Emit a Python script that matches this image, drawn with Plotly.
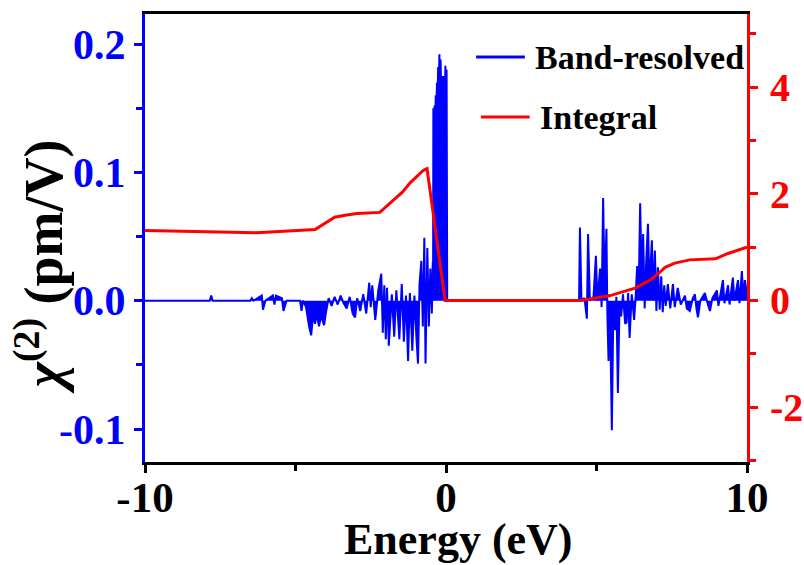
import plotly.graph_objects as go

# ---------------- data ----------------
band_energy = [
    -10.0, -7.85, -7.8, -7.75, -6.5, -6.45, -6.4, -6.12, -6.08, -6.0,
    -5.75, -5.7, -5.65, -5.45, -5.4, -5.3, -4.85, -4.8, -4.75, -4.65,
    -4.55, -4.48, -4.42, -4.35, -4.3, -4.22, -4.15, -4.05, -3.98, -3.9,
    -3.8, -3.7, -3.6, -3.5, -3.4, -3.3, -3.2, -3.1, -3.02, -2.95,
    -2.85, -2.75, -2.65, -2.55, -2.5, -2.45, -2.35, -2.25, -2.15, -2.1,
    -2.05, -2.0, -1.96, -1.9, -1.8, -1.72, -1.65, -1.55, -1.47, -1.4,
    -1.33, -1.26, -1.2, -1.12, -1.05, -0.98, -0.93, -0.88, -0.82, -0.77,
    -0.72, -0.68, -0.62, -0.57, -0.52, -0.47, -0.44, -0.43, -0.42, -0.40,
    -0.38, -0.36, -0.34, -0.32, -0.30, -0.28, -0.26, -0.24, -0.22, -0.20,
    -0.18, -0.16, -0.14, -0.12, -0.10, -0.08, -0.06, -0.04, -0.02, 0.0,
    0.02, 0.04, 4.42, 4.45, 4.5, 4.6, 4.68, 4.72, 4.78, 4.9,
    4.98, 5.03, 5.12, 5.17, 5.22, 5.27, 5.33, 5.36, 5.4, 5.45,
    5.51, 5.56, 5.61, 5.66, 5.71, 5.76, 5.82, 5.88, 5.95, 6.0,
    6.05, 6.1, 6.17, 6.25, 6.3, 6.35, 6.4, 6.45, 6.5, 6.55,
    6.6, 6.65, 6.71, 6.76, 6.84, 6.89, 6.94, 6.99, 7.04, 7.1,
    7.15, 7.2, 7.25, 7.3, 7.37, 7.45, 7.54, 7.6, 7.7, 7.8,
    7.94, 8.0, 8.1, 8.2, 8.27, 8.32, 8.37, 8.45, 8.6, 8.7,
    8.77, 8.85, 9.0, 9.05, 9.2, 9.25, 9.37, 9.42, 9.53, 9.58,
    9.7, 9.75, 9.83, 9.88, 9.93, 10.0,
]
band_chi2 = [
    0.0, 0.0, 0.004, 0.0, 0.0, 0.002, 0.0, 0.004, -0.007, 0.0,
    0.004, -0.003, 0.004, 0.002, -0.008, 0.0, 0.0, -0.008, 0.0, -0.005,
    -0.02, -0.027, -0.012, -0.018, -0.01, -0.02, -0.012, -0.019, -0.008, 0.002,
    -0.004, 0.003, -0.003, 0.004, -0.002, -0.006, 0.003, -0.01, -0.013, 0.002,
    -0.008, 0.005, -0.01, 0.014, -0.005, 0.012, -0.015, 0.008, 0.021, -0.025,
    0.012, -0.03, 0.01, -0.035, 0.005, -0.028, 0.008, -0.03, 0.013, -0.032,
    0.004, -0.047, 0.006, -0.039, 0.004, -0.03, -0.049, 0.013, 0.031, -0.02,
    0.049, -0.049, 0.041, -0.02, 0.025, -0.01, 0.03, 0.0, 0.15, 0.13,
    0.152, 0.14, 0.16, 0.15, 0.17, 0.16, 0.182, 0.165, 0.192, 0.17,
    0.188, 0.165, 0.17, 0.16, 0.175, 0.165, 0.175, 0.16, 0.183, 0.17,
    0.18, 0.0, 0.0, 0.057, 0.0, 0.002, -0.014, 0.052, 0.0, 0.003,
    0.035, 0.0, 0.025, -0.005, 0.08, 0.01, 0.056, -0.01, -0.047, -0.01,
    -0.101, -0.005, -0.023, 0.003, -0.072, -0.01, -0.012, 0.005, -0.018, -0.017,
    0.006, -0.029, 0.005, -0.015, 0.003, 0.027, 0.005, 0.076, 0.02, 0.052,
    -0.006, 0.03, 0.06, 0.01, 0.047, 0.0, 0.039, -0.008, 0.026, -0.007,
    0.019, -0.009, 0.012, -0.004, 0.013, -0.006, 0.013, -0.005, 0.01, -0.003,
    0.004, -0.006, -0.008, 0.002, 0.005, -0.006, -0.013, 0.0, 0.006, -0.003,
    -0.008, 0.002, 0.008, -0.004, 0.016, -0.002, 0.012, -0.003, 0.018, 0.0,
    0.016, -0.002, 0.023, 0.0, 0.016, 0.005,
]

integral_energy = [
    -10.0, -6.3, -4.35, -4.0, -3.7, -3.3, -2.95, -2.2, -1.8, -1.45,
    -1.2, -0.95, -0.75, -0.63, -0.03, 4.5, 5.0, 5.45, 6.28, 6.78,
    7.05, 7.28, 7.6, 8.1, 8.95, 9.37, 10.0,
]
integral_values = [
    1.31, 1.27, 1.33, 1.45, 1.56, 1.6, 1.63, 1.65, 1.85, 2.03,
    2.2, 2.34, 2.44, 2.47, 0.0, 0.0, 0.04, 0.09, 0.23, 0.38,
    0.5, 0.62, 0.7, 0.76, 0.78, 0.88, 1.0,
]

x_tickvals = [-10, 0, 10]
x_ticktext = ["-10", "0", "10"]
x_minor = [-5, 5]
y1_tickvals = [-0.1, 0.0, 0.1, 0.2]
y1_ticktext = ["-0.1", "0.0", "0.1", "0.2"]
y1_minor = [-0.05, 0.05, 0.15]
y2_tickvals = [-2, 0, 2, 4]
y2_ticktext = ["-2", "0", "2", "4"]
y2_minor = [-3, -1, 1, 3, 5]

BLUE = "#0000ff"
RED = "#ff0000"
FONT = "Liberation Serif, Times New Roman, serif"

fig = go.Figure()
fig.add_trace(go.Scatter(x=band_energy, y=band_chi2, mode="lines",
                         name="Band-resolved",
                         line=dict(color=BLUE, width=2, simplify=False),
                         fill="tozeroy", fillcolor=BLUE,
                         yaxis="y", showlegend=False))
fig.add_trace(go.Scatter(x=integral_energy, y=integral_values, mode="lines",
                         name="Integral", line=dict(color=RED, width=3),
                         yaxis="y2", showlegend=False))

# legend drawn manually (line samples + labels)
legend_items = [("Band-resolved", BLUE, 0.904), ("Integral", RED, 0.770)]
for i, (label, col, yy) in enumerate(legend_items):
    x0 = 0.550 + i * 0.008
    fig.add_shape(type="line", xref="paper", yref="paper",
                  x0=x0, x1=x0 + 0.081, y0=yy, y1=yy,
                  line=dict(color=col, width=3))
    fig.add_annotation(xref="paper", yref="paper", x=x0 + 0.094, y=yy,
                       text=label, showarrow=False, xanchor="left",
                       yanchor="middle",
                       font=dict(family=FONT, size=34, color="black", weight="bold"))

# axis titles
fig.add_annotation(xref="paper", yref="paper", x=0.52, y=-0.174,
                   text="Energy (eV)", showarrow=False,
                   xanchor="center", yanchor="middle",
                   font=dict(family=FONT, size=44, color="black", weight="bold"))
fig.add_annotation(xref="paper", yref="paper", x=-0.176, y=0.435,
                   text="<i>χ</i><sup>(2)</sup> (pm/V)", showarrow=False,
                   textangle=-90, xanchor="center", yanchor="middle",
                   font=dict(family=FONT, size=54, color="black", weight="bold"))

fig.update_layout(
    width=804, height=565,
    margin=dict(l=145, r=57, t=14, b=103),
    paper_bgcolor="white", plot_bgcolor="white",
    font=dict(family=FONT, weight="bold"),
    xaxis=dict(range=[-10, 10], showline=True, linecolor="black", linewidth=3,
               mirror=True, showgrid=False, zeroline=False, automargin=False,
               ticks="outside", ticklen=8, tickwidth=3, tickcolor="black",
               tickvals=x_tickvals, ticktext=x_ticktext, ticklabelstandoff=-13,
               minor=dict(tickvals=x_minor, ticks="outside", ticklen=6,
                          tickwidth=3, tickcolor="black"),
               tickfont=dict(family=FONT, size=43, color="black", weight="bold")),
    yaxis=dict(range=[-0.1257, 0.2234], showline=True, linecolor=BLUE, linewidth=3,
               showgrid=False, zeroline=False, automargin=False,
               ticks="outside", ticklen=8, tickwidth=3, tickcolor=BLUE,
               tickvals=y1_tickvals, ticktext=y1_ticktext,
               minor=dict(tickvals=y1_minor, ticks="outside", ticklen=6,
                          tickwidth=3, tickcolor=BLUE),
               tickfont=dict(family=FONT, size=42, color=BLUE, weight="bold")),
    yaxis2=dict(range=[-3.03, 5.37], overlaying="y", side="right",
                showline=True, linecolor=RED, linewidth=3, automargin=False,
                showgrid=False, zeroline=False,
                ticks="outside", ticklen=8, tickwidth=3, tickcolor=RED,
                tickvals=y2_tickvals, ticktext=y2_ticktext, ticklabelstandoff=4,
                minor=dict(tickvals=y2_minor, ticks="outside", ticklen=6,
                           tickwidth=3, tickcolor=RED),
                tickfont=dict(family=FONT, size=40, color=RED, weight="bold")),
)

fig.write_html("out.html")
